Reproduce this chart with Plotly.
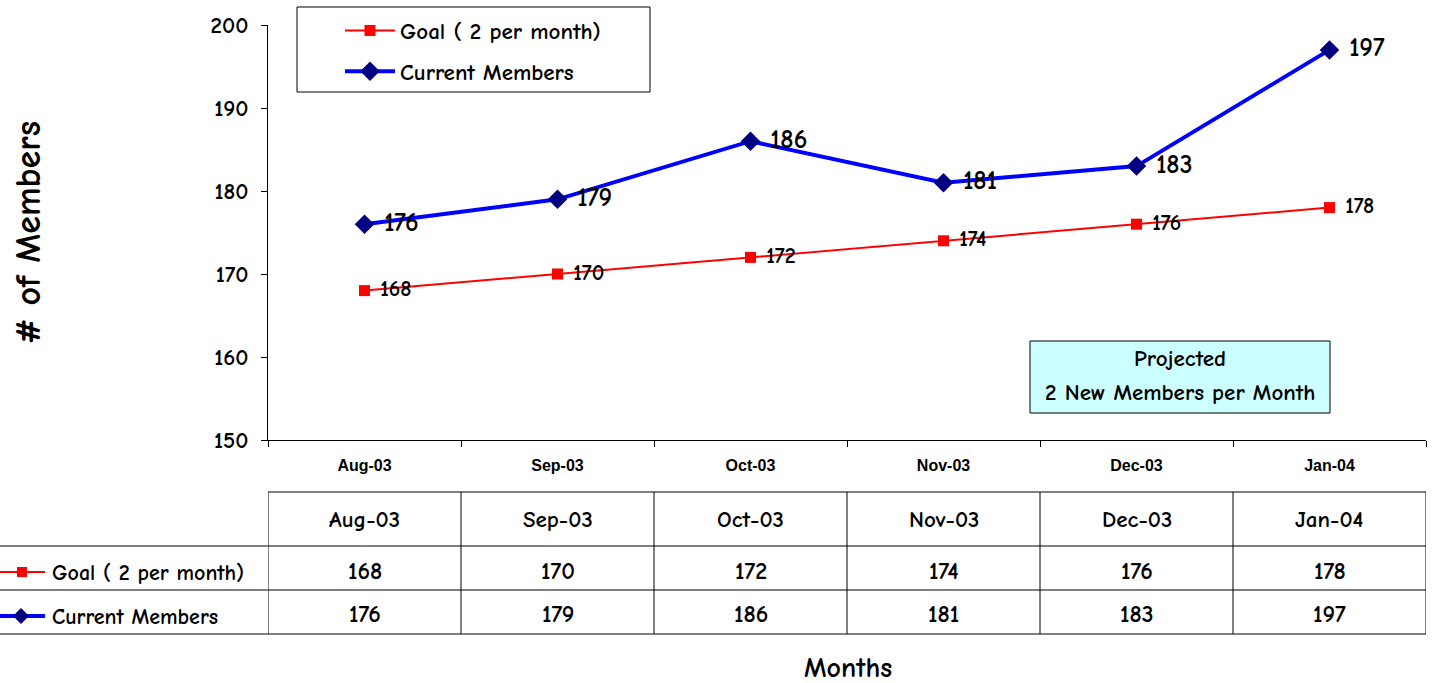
import plotly.graph_objects as go

months = ["Aug-03", "Sep-03", "Oct-03", "Nov-03", "Dec-03", "Jan-04"]
goal = [168, 170, 172, 174, 176, 178]
current = [176, 179, 186, 181, 183, 197]
goal_name = "Goal ( 2 per month)"
current_name = "Current Members"

FONT = "Comic Sans MS, Comic Neue, DejaVu Sans, sans-serif"
W, H = 1435, 683
L, R, T, B = 268, 1426, 25, 440
PAD = "\u00a0"


def px(x):
    return (x - L) / (R - L)


def py(y):
    return (B - y) / (B - T)


def f(size):
    return dict(family=FONT, size=size, color="black", weight="bold")


fig = go.Figure()
fig.add_trace(go.Scatter(
    x=months, y=goal, name=goal_name, mode="lines+markers+text",
    line=dict(color="#FF0000", width=2),
    marker=dict(symbol="square", size=11, color="#FF0000"),
    text=[PAD + str(v) for v in goal], textposition="middle right",
    textfont=f(22),
    legendgroup="g1",
))
fig.add_trace(go.Scatter(
    x=months, y=current, name=current_name, mode="lines+markers+text",
    line=dict(color="#0000FF", width=4),
    marker=dict(symbol="diamond", size=15, color="#000080"),
    text=[PAD + str(v) for v in current], textposition="middle right",
    textfont=f(26),
    legendgroup="g2",
))

shapes = []
annotations = []

# legend box
shapes.append(dict(type="rect", xref="paper", yref="paper",
                   x0=px(297), x1=px(650), y0=py(92), y1=py(7),
                   line=dict(color="black", width=1), fillcolor="rgba(0,0,0,0)"))

# projected box
shapes.append(dict(type="rect", xref="paper", yref="paper",
                   x0=px(1030), x1=px(1330), y0=py(413), y1=py(341),
                   line=dict(color="black", width=1), fillcolor="#CCFFFF", layer="below"))
annotations.append(dict(xref="paper", yref="paper", x=px(1180), y=py(358),
                        xanchor="center", yanchor="middle",
                        text="Projected", showarrow=False, font=f(23)))
annotations.append(dict(xref="paper", yref="paper", x=px(1180), y=py(392),
                        xanchor="center", yanchor="middle",
                        text="2 New Members per Month", showarrow=False, font=f(23)))

# data table
n = len(months)
rows_y = [492, 546, 590, 634]
line_style = dict(color="black", width=1)
shapes.append(dict(type="line", xref="x", yref="paper", x0=-0.5, x1=n - 0.5,
                   y0=py(rows_y[0]), y1=py(rows_y[0]), line=line_style))
for ry in rows_y[1:]:
    shapes.append(dict(type="line", xref="paper", yref="paper", x0=px(0), x1=1,
                       y0=py(ry), y1=py(ry), line=line_style))
for i in range(n + 1):
    shapes.append(dict(type="line", xref="x", yref="paper", x0=i - 0.5, x1=i - 0.5,
                       y0=py(rows_y[0]), y1=py(rows_y[-1]), line=line_style))

for i, m in enumerate(months):
    annotations.append(dict(xref="x", yref="paper", x=m, y=py(519), text=m,
                            xanchor="center", yanchor="middle",
                            showarrow=False, font=f(23)))
    annotations.append(dict(xref="x", yref="paper", x=m, y=py(571), text=str(goal[i]),
                            xanchor="center", yanchor="middle",
                            showarrow=False, font=f(24)))
    annotations.append(dict(xref="x", yref="paper", x=m, y=py(614), text=str(current[i]),
                            xanchor="center", yanchor="middle",
                            showarrow=False, font=f(24)))

# table row keys
shapes.append(dict(type="line", xref="paper", yref="paper", x0=px(0), x1=px(45),
                   y0=py(572), y1=py(572), line=dict(color="#FF0000", width=2)))
shapes.append(dict(type="rect", xref="paper", yref="paper", x0=px(17), x1=px(27),
                   y0=py(577), y1=py(567), line=dict(width=0), fillcolor="#FF0000"))
shapes.append(dict(type="line", xref="paper", yref="paper", x0=px(0), x1=px(45),
                   y0=py(616), y1=py(616), line=dict(color="#0000FF", width=4)))
dcx, dcy, dr = 21, 616, 8
shapes.append(dict(type="path", xref="paper", yref="paper",
                   path=f"M {px(dcx - dr)},{py(dcy)} L {px(dcx)},{py(dcy - dr)} L {px(dcx + dr)},{py(dcy)} L {px(dcx)},{py(dcy + dr)} Z",
                   line=dict(width=0), fillcolor="#000080"))
annotations.append(dict(xref="paper", yref="paper", x=px(50), y=py(573),
                        xanchor="left", yanchor="middle",
                        text=goal_name, showarrow=False, font=f(22)))
annotations.append(dict(xref="paper", yref="paper", x=px(50), y=py(617),
                        xanchor="left", yanchor="middle",
                        text=current_name, showarrow=False, font=f(22)))

# axis titles
annotations.append(dict(xref="paper", yref="paper", x=px(29), y=py(233), textangle=-90,
                        xanchor="center", yanchor="middle",
                        text="# of Members", showarrow=False, font=f(36)))
annotations.append(dict(xref="paper", yref="paper", x=px(848), y=py(668),
                        xanchor="center", yanchor="middle",
                        text="Months", showarrow=False, font=f(28)))

fig.update_layout(
    width=W, height=H,
    margin=dict(l=L, r=W - R, t=T, b=H - B),
    paper_bgcolor="white", plot_bgcolor="white",
    font=dict(family=FONT, color="black"),
    showlegend=True,
    legend=dict(x=px(340), y=py(9), xanchor="left", yanchor="top",
                bgcolor="rgba(0,0,0,0)", borderwidth=0,
                font=f(23),
                tracegroupgap=8, itemwidth=50,
                traceorder="grouped"),
    xaxis=dict(type="category", categoryorder="array", categoryarray=months,
               range=[-0.5, n - 0.5], showline=True, linecolor="black", linewidth=1,
               ticks="outside", tickson="boundaries", ticklen=6, tickcolor="black",
               showgrid=False, zeroline=False,
               tickfont=dict(family="Arial, Liberation Sans", size=16, color="black", weight="bold"),
               ticklabelstandoff=11),
    yaxis=dict(range=[150, 200], dtick=10, showline=True, linecolor="black", linewidth=1,
               ticks="outside", ticklen=6, tickcolor="black", showgrid=False, zeroline=False,
               tickfont=f(23), ticklabelstandoff=8),
    shapes=shapes, annotations=annotations,
)

fig.write_html("out.html", config={"displayModeBar": False},
               post_script="document.body.style.margin='0';")
